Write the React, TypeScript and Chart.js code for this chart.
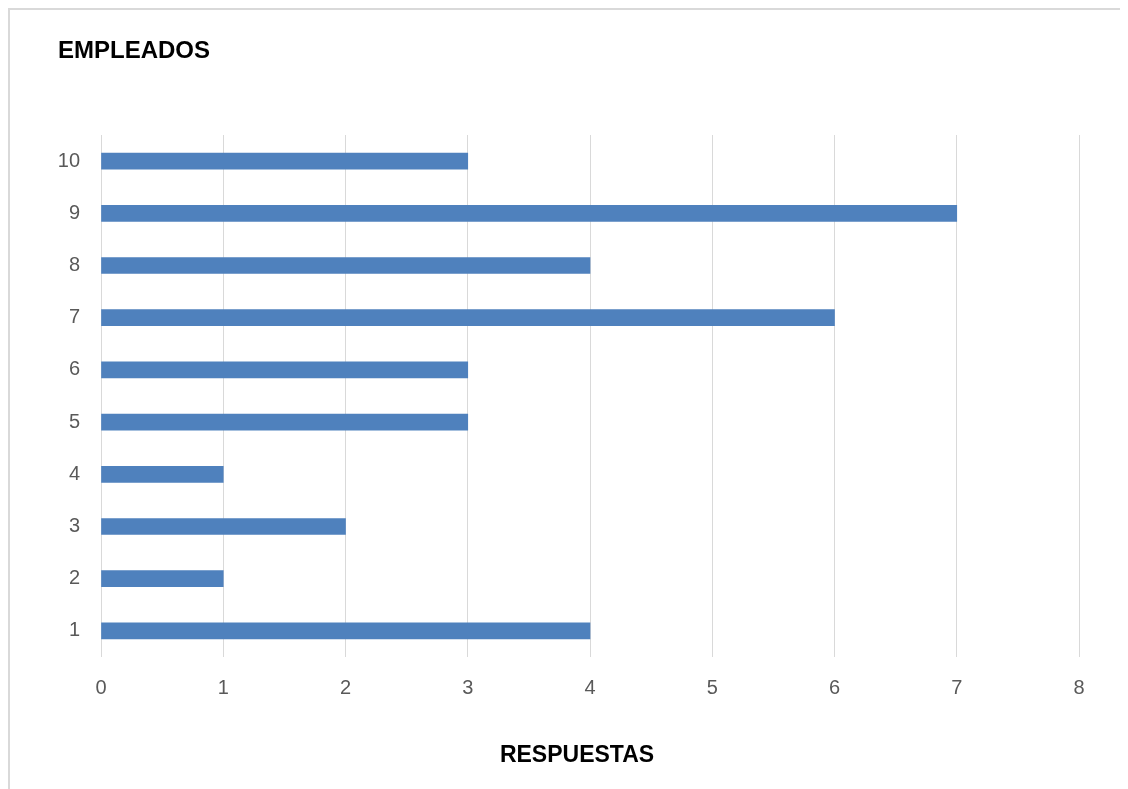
import React, { useEffect, useRef } from "react";
import { Chart, registerables } from "chart.js";

Chart.register(...registerables);

const categories: string[] = ["1", "2", "3", "4", "5", "6", "7", "8", "9", "10"];
const respuestas: number[] = [4, 1, 2, 1, 3, 3, 6, 4, 7, 3];
const xTickValues: number[] = [0, 1, 2, 3, 4, 5, 6, 7, 8];
const chartTitle = "EMPLEADOS";
const xAxisTitle = "RESPUESTAS";

const CANVAS_W = 1118;
const CANVAS_H = 779;

const textPlugin = {
  id: "excelTexts",
  afterDraw(chart: any) {
    const ctx = chart.ctx;
    ctx.save();
    ctx.fillStyle = "#000000";
    ctx.font = "bold 24px 'Liberation Sans', Arial, sans-serif";
    ctx.textBaseline = "middle";
    ctx.textAlign = "left";
    ctx.fillText(chartTitle, 48, 41);
    ctx.font = "bold 23px 'Liberation Sans', Arial, sans-serif";
    ctx.textAlign = "center";
    ctx.fillText(xAxisTitle, 567, 746);
    ctx.restore();
  },
};

export default function App() {
  const ref = useRef<HTMLCanvasElement | null>(null);

  useEffect(() => {
    if (!ref.current) return;
    const chart = new Chart(ref.current, {
      type: "bar",
      data: {
        labels: categories,
        datasets: [
          {
            label: xAxisTitle,
            data: respuestas,
            backgroundColor: "#4F81BD",
            borderWidth: 0,
            barThickness: 16,
          },
        ],
      },
      plugins: [textPlugin],
      options: {
        indexAxis: "y",
        animation: false,
        responsive: false,
        layout: { padding: { top: 125, right: 49, left: 0, bottom: 0 } },
        plugins: {
          legend: { display: false },
          title: { display: false },
          tooltip: { enabled: false },
        },
        scales: {
          x: {
            min: 0,
            max: 8,
            afterBuildTicks: (scale: any) => {
              scale.ticks = xTickValues.map((v) => ({ value: v }));
            },
            afterFit: (scale: any) => {
              scale.height = 132;
            },
            grid: {
              color: "#d9d9d9",
              lineWidth: 1,
              drawTicks: false,
            },
            border: { display: false },
            ticks: {
              color: "#595959",
              padding: 19,
              font: { family: "'Liberation Sans', Arial, sans-serif", size: 20 },
            },
          },
          y: {
            reverse: true,
            afterFit: (scale: any) => {
              scale.width = 91;
            },
            grid: { display: false, drawTicks: false },
            border: { display: false },
            ticks: {
              color: "#595959",
              padding: 21,
              font: { family: "'Liberation Sans', Arial, sans-serif", size: 20 },
            },
          },
        },
      },
    } as any);
    return () => chart.destroy();
  }, []);

  return (
    <div
      style={{
        width: 1120,
        height: 781,
        boxSizing: "border-box",
        borderTop: "2px solid #d9d9d9",
        borderLeft: "2px solid #d9d9d9",
        background: "#ffffff",
        overflow: "hidden",
      }}
    >
      <canvas
        ref={ref}
        width={CANVAS_W}
        height={CANVAS_H}
        style={{ display: "block", width: CANVAS_W, height: CANVAS_H }}
      />
    </div>
  );
}
